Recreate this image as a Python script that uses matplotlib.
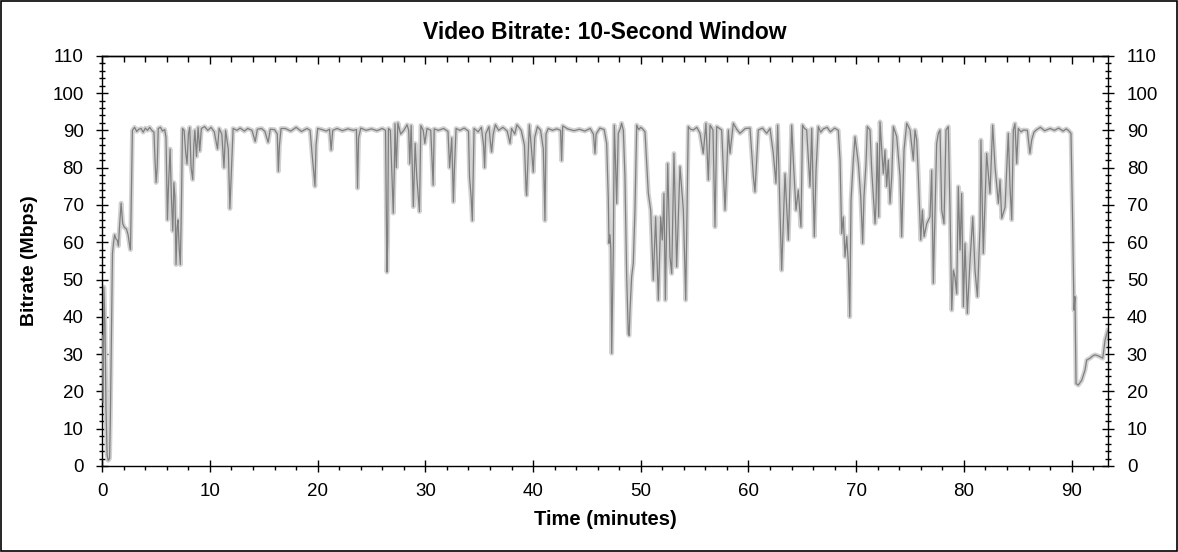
import matplotlib
matplotlib.use("Agg")
import matplotlib.pyplot as plt
from matplotlib.ticker import MultipleLocator

plt.rcParams['font.family'] = ['Liberation Sans', 'DejaVu Sans']

title = "Video Bitrate: 10-Second Window"
x_label = "Time (minutes)"
y_label = "Bitrate (Mbps)"

# time (minutes) and bitrate (Mbps)
time_min = [
    0.0, 0.08, 0.15, 0.25, 0.35, 0.45, 0.55, 0.68, 0.75, 0.85, 0.95, 1.05, 1.15, 1.25, 1.4, 1.5,
    1.6, 1.75, 1.9, 2.05, 2.25, 2.4, 2.55, 2.62, 2.72, 2.8, 3.0, 3.2, 3.4, 3.6, 3.8, 4.0,
    4.2, 4.4, 4.6, 4.8, 4.9, 5.0, 5.1, 5.2, 5.4, 5.6, 5.8, 5.92, 6.05, 6.15, 6.3, 6.42,
    6.55, 6.65, 6.75, 6.85, 6.95, 7.03, 7.15, 7.25, 7.35, 7.45, 7.6, 7.75, 7.87, 8.0,
    8.12, 8.25, 8.4, 8.5, 8.6, 8.75, 8.9, 9.05, 9.2, 9.5, 9.8, 10.1, 10.4, 10.7, 10.85, 11.1,
    11.3, 11.45, 11.7, 11.85, 12.0, 12.15, 12.5, 12.8, 13.2, 13.5, 13.9, 14.2, 14.4, 14.8, 15.1, 15.4,
    15.6, 16.0, 16.25, 16.35, 16.45, 16.6,
    17.0, 17.5, 18.0, 18.5, 19.0, 19.3, 19.45, 19.6, 19.75, 19.85, 20.0, 20.4, 20.8, 21.1, 21.25, 21.4,
    21.8, 22.3, 22.8, 23.3, 23.6, 23.7, 23.8, 24.0, 24.5, 25.0, 25.5, 26.0, 26.3, 26.38, 26.43, 26.5,
    26.57, 26.75, 26.88, 27.02, 27.12, 27.18, 27.3, 27.45, 27.7, 28.0, 28.3, 28.45, 28.55, 28.68, 28.88, 29.05,
    29.2, 29.45, 29.58, 29.8, 29.95, 30.15, 30.5, 30.72, 30.82, 31.2, 31.7, 32.1, 32.25,
    32.45, 32.6, 32.7, 32.85, 33.2, 33.6, 34.0, 34.1, 34.25, 34.36, 34.45, 34.52, 34.9, 35.2, 35.4, 35.5,
    35.6, 35.9, 36.05, 36.15, 36.3, 36.5, 36.8, 37.2, 37.6, 37.86, 38.0, 38.3, 38.5, 38.9, 39.2, 39.35,
    39.4, 39.5, 39.65, 39.85, 40.02, 40.15, 40.4, 40.7, 40.95, 41.1, 41.2, 41.4, 41.8, 42.2, 42.55, 42.65,
    42.75, 43.2, 43.8, 44.3, 44.8, 45.3, 45.6, 45.75, 45.85, 46.2, 46.6, 46.83,
    46.98, 47.05, 47.14, 47.22, 47.3, 47.45, 47.54, 47.65, 47.76, 47.91, 48.1, 48.22, 48.38, 48.53, 48.69, 48.84,
    48.92, 49.0, 49.15, 49.3, 49.46, 49.62, 49.8, 50.0, 50.2, 50.39, 50.7, 50.92, 51.16, 51.38, 51.63, 51.85,
    52.0, 52.15, 52.28, 52.5, 52.71, 52.87, 53.08, 53.33, 53.64, 53.95, 54.17, 54.41, 54.6, 54.88, 55.2, 55.5,
    55.8, 56.05, 56.27, 56.43, 56.7, 56.89, 57.05, 57.3, 57.51, 57.82, 58.13, 58.28, 58.59, 58.9, 59.21, 59.7,
    60.14, 60.45, 60.6, 60.91, 61.3, 61.69, 62.0, 62.3, 62.55, 62.71, 62.92, 63.08, 63.39, 63.7, 64.01,
    64.16, 64.41, 64.62, 64.87, 65.02, 65.2, 65.4, 65.71, 65.87, 66.11, 66.27, 66.48, 66.7, 66.95, 67.3, 67.6,
    68.0, 68.34, 68.5, 68.65, 68.8, 68.96, 69.12, 69.27, 69.4, 69.52, 69.73, 69.89, 70.05, 70.2, 70.42, 70.6,
    70.72, 70.91, 71.03, 71.28, 71.44, 71.59, 71.75, 71.84, 71.96, 72.09, 72.21, 72.37, 72.52, 72.67, 72.83, 72.98,
    73.14, 73.3, 73.45, 73.76, 74.07, 74.22, 74.44, 74.69, 75.0, 75.3, 75.46, 75.62, 75.77, 75.99, 76.14, 76.3,
    76.55, 76.85, 77.01, 77.16, 77.32, 77.47, 77.63, 77.78, 77.94, 78.15, 78.34, 78.55, 78.71, 78.87, 79.02, 79.17,
    79.33, 79.48, 79.64, 79.79, 79.95, 80.1, 80.32, 80.57, 80.82, 81.03, 81.25, 81.5, 81.58, 81.8, 82.11, 82.42,
    82.67, 82.89, 83.2, 83.35, 83.51, 83.82, 84.12, 84.28, 84.44, 84.59, 84.74, 84.9, 85.05, 85.3, 85.52, 85.89,
    86.13, 86.29, 86.5, 86.76, 87.1, 87.5, 88.0, 88.4, 88.8, 89.2, 89.5, 89.69, 89.94, 90.1, 90.22, 90.31,
    90.41, 90.62, 90.94, 91.24, 91.4, 91.71, 91.95, 92.17, 92.4, 92.64, 92.89, 93.1, 93.35,
]
bitrate_mbps = [
    35, 17, 48, 38, 15, 3, 1.5, 2, 12, 35, 57, 60, 62, 61, 60.5, 59,
    64, 70.5, 65, 64, 63.5, 62, 59, 58, 75, 90, 90.8, 89.7, 90.3, 90.5, 89.5, 90.6,
    90, 90.8, 90, 89.5, 82, 76, 80, 90.5, 90.8, 89.8, 90.2, 88, 66, 75, 85, 72,
    63, 76, 72, 54, 64, 66, 58, 54, 70, 90.5, 90, 84, 81, 89,
    90.8, 80, 76.8, 86, 90, 83, 90.8, 84.5, 90.5, 91, 90, 90.8, 89.6, 85, 90.5, 89,
    80, 90, 85, 69, 80, 90.5, 90, 90.6, 89.8, 90.5, 90, 87, 90.3, 90.5, 89.7, 86.8,
    90.3, 90.2, 89, 79, 86, 90.5,
    90.5, 89.8, 90.8, 89.7, 90.5, 90, 84.7, 80, 75, 86, 90.5, 90.2, 89.8, 90.3, 84.7, 90,
    90.5, 89.9, 90.4, 90, 90.2, 74.5, 88, 90.6, 90, 90.4, 89.9, 90.5, 90, 68, 52, 60,
    90.5, 90, 79, 67.8, 80, 91.8, 80, 92, 89, 90, 91.5, 90, 81, 91.3, 69.5, 86.5,
    77.5, 68.2, 91.3, 90, 86.5, 90.5, 90, 75.3, 90.4, 90, 90.5, 89.7, 80,
    88, 70.8, 80, 90.5, 90, 90.6, 89.8, 77.5, 72, 65.8, 80, 90.5, 89.6, 90.8, 86, 80,
    89, 91, 86.5, 84.2, 89, 91.5, 90, 90.8, 89.8, 86.5, 90.5, 89, 91.5, 90, 86, 74,
    72.6, 80, 91.5, 85, 78.8, 88, 91, 90, 85, 65.8, 89, 90.5, 90, 90.4, 90, 81.9,
    91.2, 90.4, 89.9, 90.3, 89.8, 90.5, 89, 83.8, 89, 90.6, 90.2, 86.5,
    72, 59.7, 62, 58, 30.2, 58, 91.4, 82, 70.4, 89.2, 90.5, 91.9, 90, 77.6, 50.7, 35.5,
    35, 41.8, 50.7, 54.3, 68.6, 91.4, 90.2, 90.8, 90.3, 89.6, 73.1, 68.6, 49.8, 66.8, 44.5, 66.8,
    60.6, 73.1, 44.5, 81.1, 56.1, 51.6, 83.8, 53.4, 80.3, 68.6, 44.5, 91.0, 90.3, 90.1, 90.8, 89.2,
    83.8, 91.9, 76.7, 91.4, 90.1, 64.1, 91.0, 90.5, 90.1, 68.6, 90.1, 83.8, 91.9, 90.3, 89.2, 90.5,
    90.6, 77.6, 73.5, 90.1, 90.6, 89.2, 90.5, 83.8, 75.8, 91.4, 68.6, 52.5, 78.4, 60.6, 91.4,
    82.0, 68.6, 74.0, 64.1, 91.4, 90.5, 90.1, 74.9, 90.5, 61.5, 79.3, 91.0, 89.5, 90.4, 90.8, 89.6,
    90.6, 90.0, 82.0, 62.3, 66.8, 56.1, 61.5, 54.3, 40.0, 71.3, 82.0, 88.3, 84.7, 81.1, 72.2, 59.7,
    72.2, 81.1, 91.0, 90.1, 79.3, 72.2, 65.0, 70.4, 86.5, 66.8, 92.3, 84.7, 78.4, 84.7, 74.9, 82.0,
    70.4, 77.6, 91.0, 88.3, 77.6, 61.5, 84.7, 91.9, 90.1, 82.0, 90.1, 87.4, 77.6, 60.6, 68.6, 61.5,
    65.0, 66.8, 79.3, 49.0, 68.6, 86.5, 89.2, 90.1, 68.6, 65.0, 90.1, 91.0, 68.6, 41.8, 52.5, 50.7,
    46.2, 74.9, 57.9, 73.1, 42.7, 59.7, 40.9, 55.2, 66.8, 52.5, 45.4, 64.1, 87.4, 57.0, 83.8, 73.1,
    91.4, 80.2, 70.4, 76.7, 66.4, 69.4, 89.2, 74.9, 66.0, 90.1, 91.8, 81.1, 90.5, 89.6, 90.1, 90.0,
    83.8, 87.4, 89.5, 90.2, 90.8, 89.9, 90.5, 90.0, 90.6, 89.8, 90.4, 90.0, 89.2, 64.1, 41.8, 45.4,
    22.1, 21.7, 23.0, 25.7, 28.4, 28.9, 29.5, 29.8, 29.6, 29.3, 28.9, 33.7, 36.4,
]

x_ticks = [0, 10, 20, 30, 40, 50, 60, 70, 80, 90]
y_ticks = [0, 10, 20, 30, 40, 50, 60, 70, 80, 90, 100, 110]

fig = plt.figure(figsize=(11.78, 5.52), dpi=100)
ax = fig.add_axes([0.0868, 0.1558, 0.8538, 0.7432])

ax.plot(time_min, bitrate_mbps, color='#d2d2d2', lw=3.4, solid_joinstyle='round', zorder=2)
ax.plot(time_min, bitrate_mbps, color='#7f7f7f', lw=0.9, zorder=3)

ax.set_xlim(0, 93.38)
ax.set_ylim(0, 110)
ax.set_xticks(x_ticks)
ax.set_yticks(y_ticks)
ax.xaxis.set_minor_locator(MultipleLocator(2))
ax.yaxis.set_minor_locator(MultipleLocator(2))

ax.tick_params(axis='y', which='major', direction='inout', length=8, width=1,
               left=True, right=True, labelleft=True, labelright=True,
               labelsize=13.5, pad=9.5)
ax.tick_params(axis='y', which='minor', direction='inout', length=4.3, width=1,
               left=True, right=True)
ax.tick_params(axis='x', which='major', direction='inout', length=9, width=1,
               labelsize=13.5, pad=8)
ax.tick_params(axis='x', which='minor', direction='out', length=3, width=1)

top = ax.secondary_xaxis('top')
top.set_xticks(x_ticks)
top.xaxis.set_minor_locator(MultipleLocator(2))
top.tick_params(axis='x', which='major', direction='in', length=6, width=1, labeltop=False)
top.tick_params(axis='x', which='minor', direction='in', length=4, width=1)
top.spines['top'].set_linewidth(1)

for s in ax.spines.values():
    s.set_linewidth(1)
    s.set_color('black')

ax.set_title(title, fontsize=16.5, fontweight='bold', pad=12)
ax.set_xlabel(x_label, fontsize=14.5, fontweight='bold', labelpad=7)
ax.set_ylabel(y_label, fontsize=14, fontweight='bold', labelpad=10)

fig.patches.append(plt.Rectangle((0.0005, 0.001), 0.999, 0.998, transform=fig.transFigure,
                                 fill=False, lw=1.2, ec='black'))

fig.savefig('out.png', dpi=100)
